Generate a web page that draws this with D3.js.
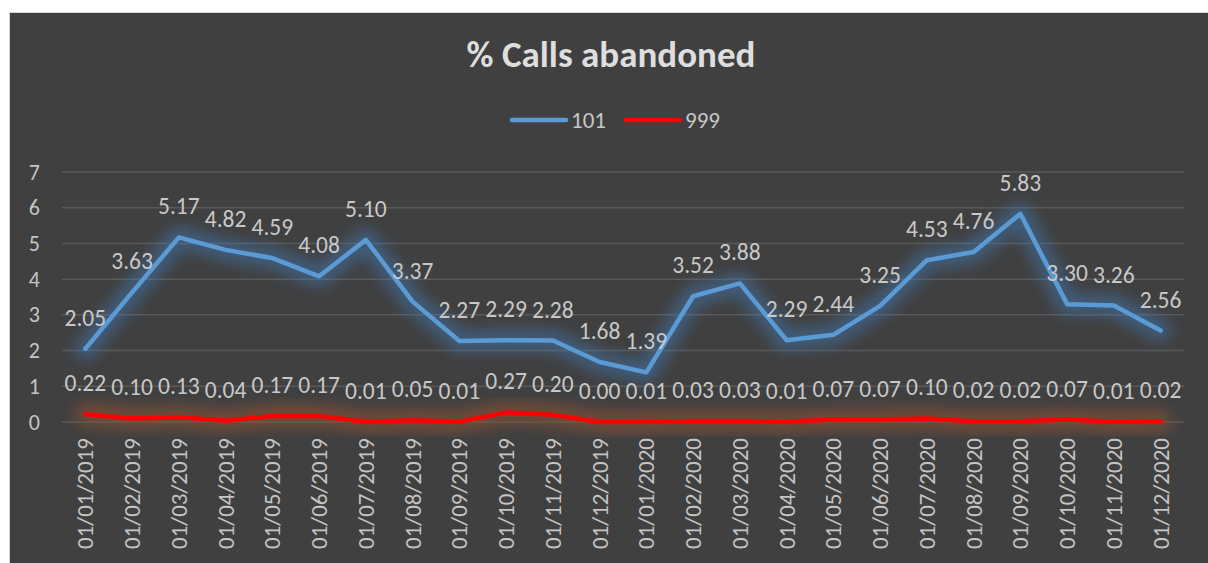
<!DOCTYPE html>
<html>
<head>
<meta charset="utf-8">
<script src="https://cdn.jsdelivr.net/npm/d3@7"></script>
<style>
  html, body { margin: 0; padding: 0; background: #ffffff; }
  svg { display: block; }
  text { font-family: Carlito, Calibri, Lato, "Open Sans", sans-serif; }
</style>
</head>
<body>
<div id="chart"></div>
<script>
// values
var months = ["01/01/2019", "01/02/2019", "01/03/2019", "01/04/2019", "01/05/2019", "01/06/2019",
    "01/07/2019", "01/08/2019", "01/09/2019", "01/10/2019", "01/11/2019", "01/12/2019",
    "01/01/2020", "01/02/2020", "01/03/2020", "01/04/2020", "01/05/2020", "01/06/2020",
    "01/07/2020", "01/08/2020", "01/09/2020", "01/10/2020", "01/11/2020", "01/12/2020"];
var calls101 = [2.05, 3.63, 5.17, 4.82, 4.59, 4.08, 5.10, 3.37, 2.27, 2.29, 2.28, 1.68,
    1.39, 3.52, 3.88, 2.29, 2.44, 3.25, 4.53, 4.76, 5.83, 3.30, 3.26, 2.56];
var calls999 = [0.22, 0.10, 0.13, 0.04, 0.17, 0.17, 0.01, 0.05, 0.01, 0.27, 0.20, 0.00,
    0.01, 0.03, 0.03, 0.01, 0.07, 0.07, 0.10, 0.02, 0.02, 0.07, 0.01, 0.02];
var yTicks = [0, 1, 2, 3, 4, 5, 6, 7];
var seriesNames = ["101", "999"];

var width = 1208;
var height = 563;

var svg = d3.select("#chart").append("svg")
        .attr("width", width)
        .attr("height", height);

var defs = svg.append("defs");
var glowBlur = defs.append("filter").attr("id", "glow")
        .attr("x", "-10%").attr("y", "-150%")
        .attr("width", "120%").attr("height", "400%");
glowBlur.append("feGaussianBlur").attr("stdDeviation", 7);

// chart area frame
svg.append("rect")
        .attr("x", 9.5).attr("y", 12.5)
        .attr("width", width).attr("height", height)
        .attr("fill", "#404040")
        .attr("stroke", "#d4d4d4");

svg.append("text")
        .attr("x", 611).attr("y", 67)
        .attr("text-anchor", "middle")
        .attr("font-size", 37)
        .attr("font-weight", "bold")
        .attr("fill", "#dedede")
        .text("% Calls abandoned");

var x = d3.scaleBand().domain(months).range([62, 1184]);
var y = d3.scaleLinear().domain([0, 7]).range([422, 172]);
var cx = function (i) { return x(months[i]) + x.bandwidth() / 2; };

// gridlines
svg.append("g").selectAll("line")
        .data(yTicks)
        .enter().append("line")
        .attr("x1", 62).attr("x2", 1184)
        .attr("y1", function (d) { return y(d); })
        .attr("y2", function (d) { return y(d); })
        .attr("stroke", "#595959")
        .attr("stroke-width", 1.5);

var yAxis = d3.axisLeft(y).tickValues(yTicks).tickFormat(d3.format("d")).tickSize(0).tickPadding(0);
var yg = svg.append("g").attr("transform", "translate(40,0)").call(yAxis);
yg.select(".domain").remove();
yg.selectAll("text")
        .attr("font-size", 22)
        .attr("fill", "#c4c4c4")
        .attr("font-family", "Carlito, Calibri, Lato, sans-serif");

var xAxis = d3.axisBottom(x).tickSize(0).tickPadding(0);
var xg = svg.append("g").attr("transform", "translate(0,438)").call(xAxis);
xg.select(".domain").remove();
xg.selectAll("text")
        .attr("font-size", 23)
        .attr("fill", "#c4c4c4")
        .attr("font-family", "Carlito, Calibri, Lato, sans-serif")
        .attr("text-anchor", "end")
        .attr("dy", "0.35em")
        .attr("transform", "rotate(-90)")
        .attr("x", 0).attr("y", 0);

var line = d3.line()
        .x(function (d, i) { return cx(i); })
        .y(function (d) { return y(d); });

var series = [
    {values: calls999, color: "#ff0000", glow: "#8f5430", glowOpacity: 0.6},
    {values: calls101, color: "#5b9bd5", glow: "#3f7fbf", glowOpacity: 0.45}
];

series.forEach(function (s) {
    svg.append("path")
            .attr("d", line(s.values))
            .attr("fill", "none")
            .attr("stroke", s.glow)
            .attr("stroke-opacity", s.glowOpacity)
            .attr("stroke-width", 22)
            .attr("stroke-linejoin", "round")
            .attr("stroke-linecap", "round")
            .attr("filter", "url(#glow)");
    svg.append("path")
            .attr("d", line(s.values))
            .attr("fill", "none")
            .attr("stroke", s.color)
            .attr("stroke-width", 4.5)
            .attr("stroke-linejoin", "round")
            .attr("stroke-linecap", "round");
});

// data labels
[calls101, calls999].forEach(function (vals) {
    svg.append("g").selectAll("text")
            .data(vals)
            .enter().append("text")
            .attr("x", function (d, i) { return cx(i); })
            .attr("y", function (d) { return y(d) - 23; })
            .attr("text-anchor", "middle")
            .attr("font-size", 23.5)
            .attr("fill", "#c8c8c8")
            .text(function (d) { return d.toFixed(2); });
});

// legend
var legend = svg.append("g");
var legendItems = [
    {name: seriesNames[0], color: "#5b9bd5", x: 512},
    {name: seriesNames[1], color: "#ff0000", x: 626}
];
legendItems.forEach(function (d) {
    legend.append("line")
            .attr("x1", d.x).attr("x2", d.x + 54)
            .attr("y1", 120).attr("y2", 120)
            .attr("stroke", d.color)
            .attr("stroke-width", 4.5)
            .attr("stroke-linecap", "round");
    legend.append("text")
            .attr("x", d.x + 59).attr("y", 120)
            .attr("dy", "0.35em")
            .attr("font-size", 23)
            .attr("fill", "#c8c8c8")
            .text(d.name);
});
</script>
</body>
</html>
